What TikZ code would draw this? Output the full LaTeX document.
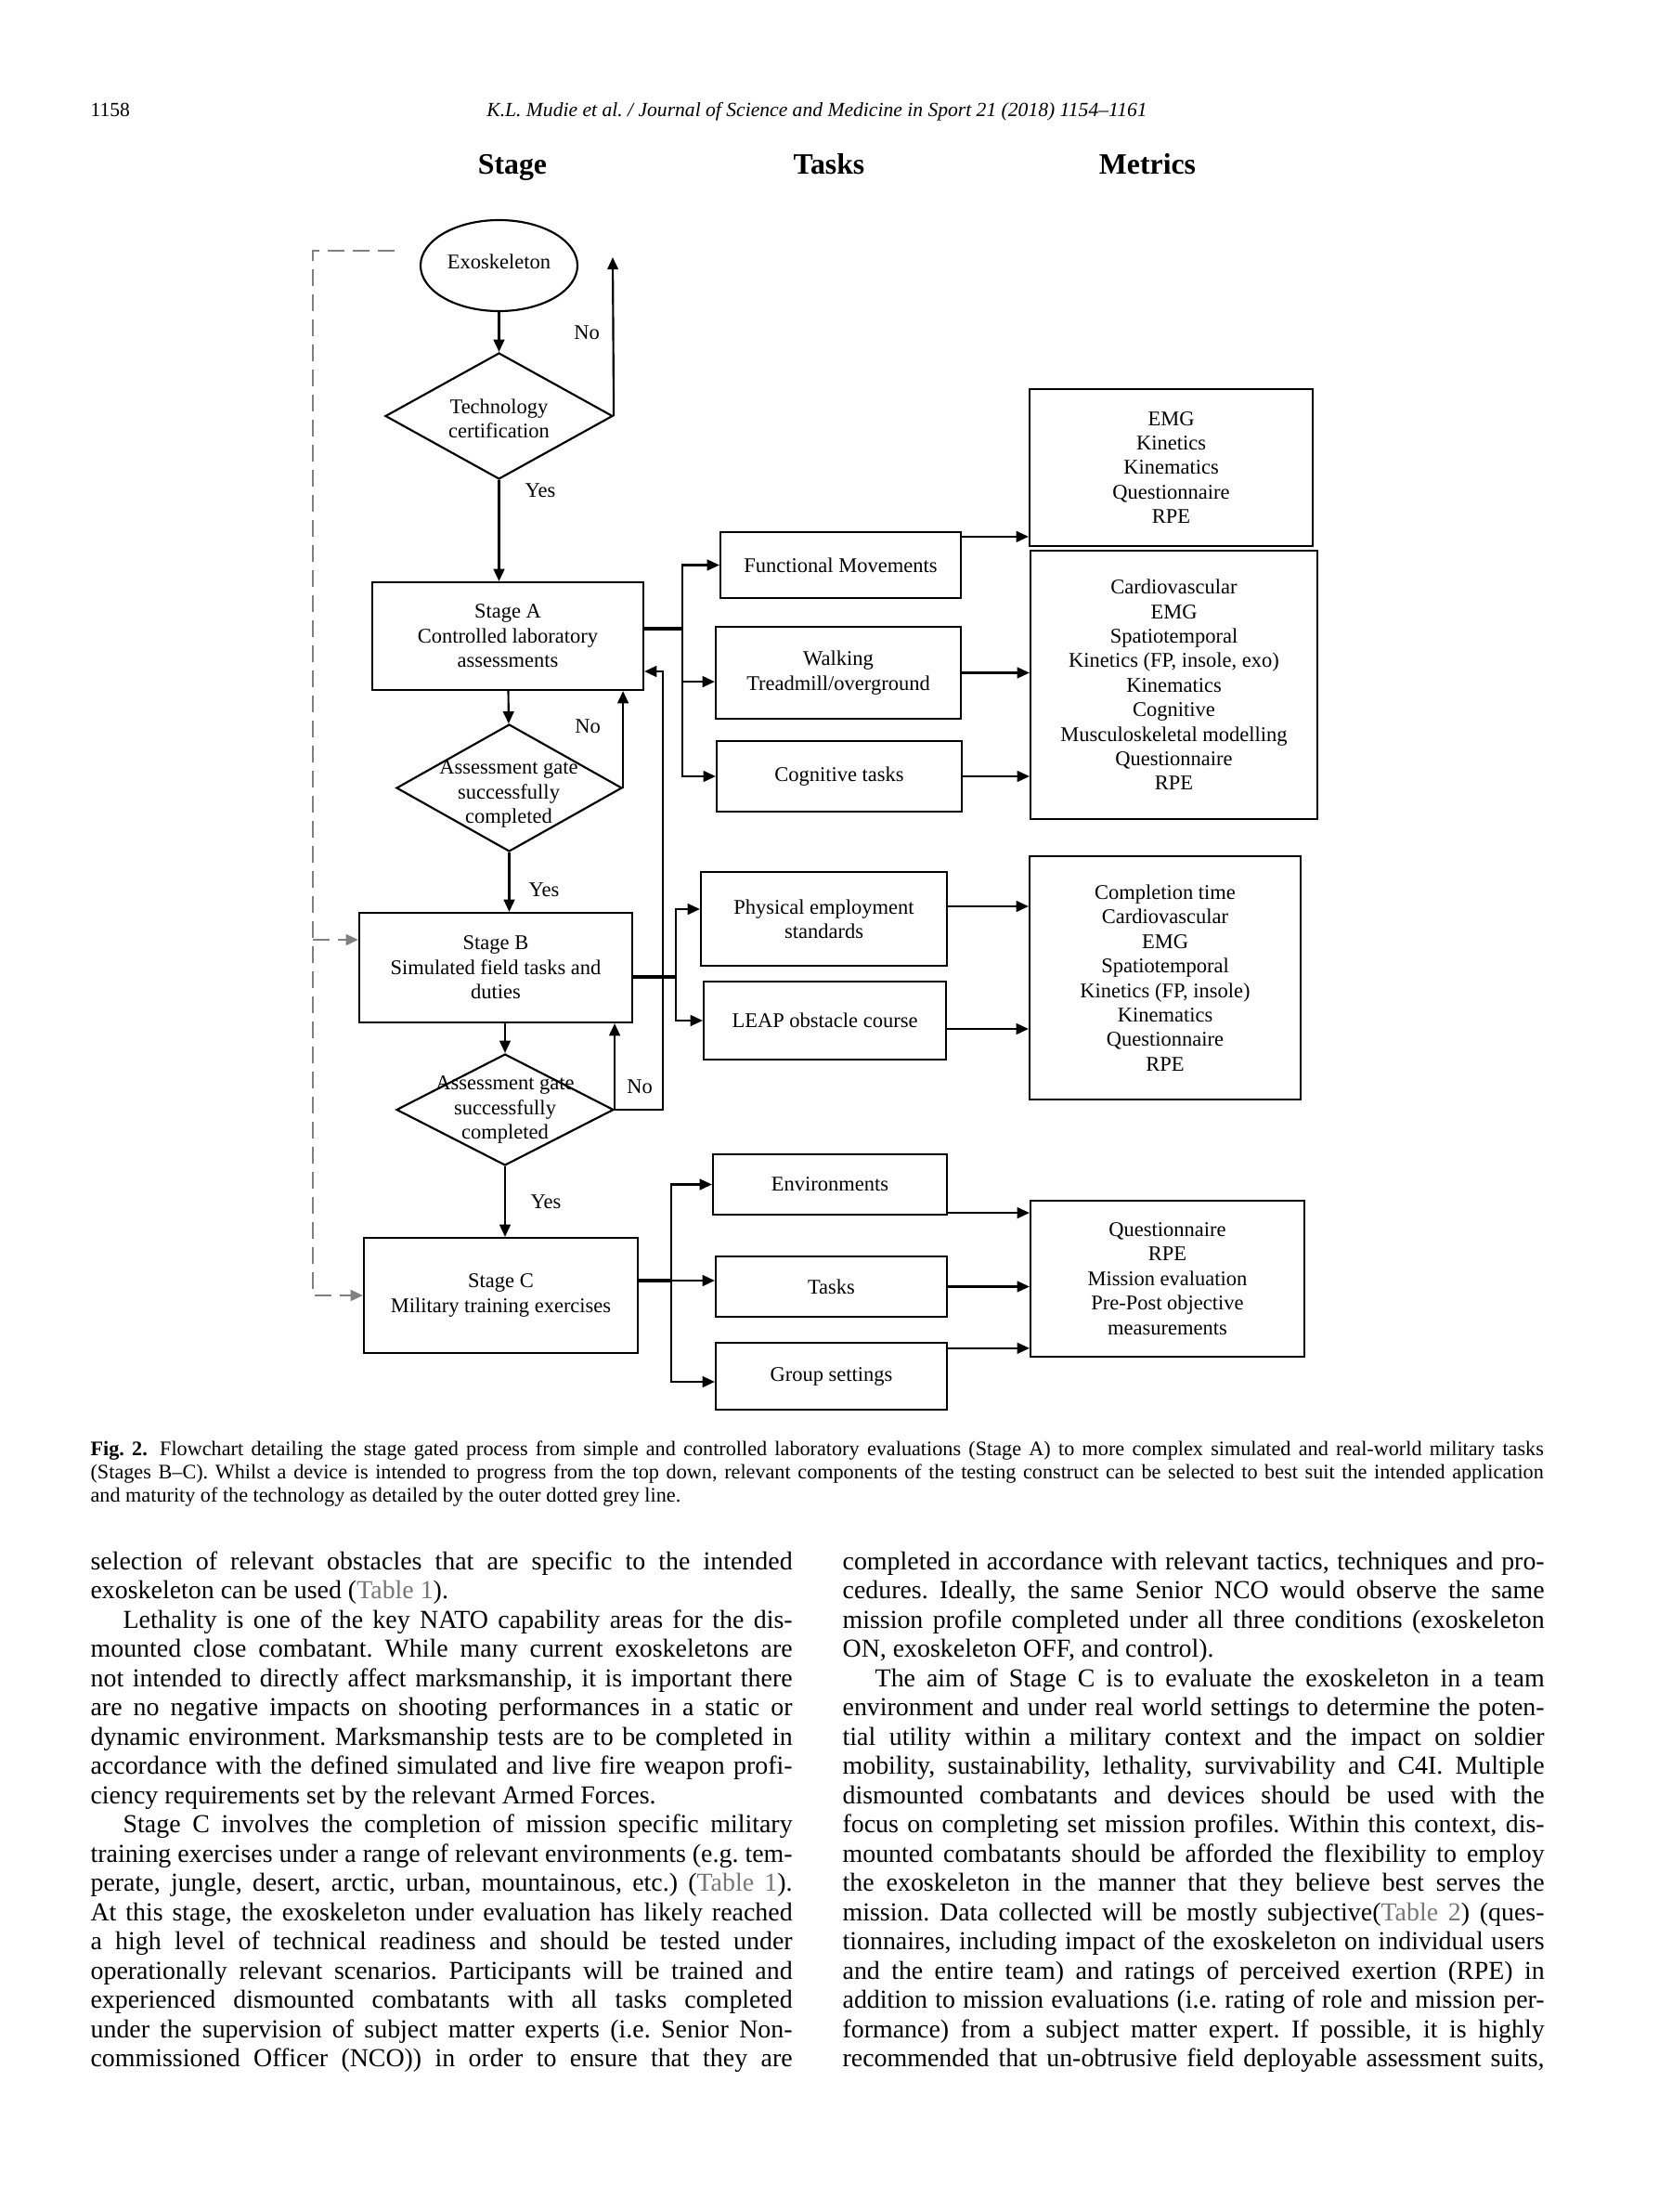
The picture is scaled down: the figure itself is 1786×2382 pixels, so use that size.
\documentclass[tikz,border=0pt]{standalone}
\usepackage{fontspec}
\setmainfont{Liberation Serif}
\usetikzlibrary{arrows.meta,shapes.geometric}
\definecolor{dashgray}{RGB}{128,128,128}
\definecolor{linkgray}{RGB}{118,118,118}
\frenchspacing
\newcommand{\diagfont}{\fontsize{7.5}{8.8}\selectfont}
\newcommand{\bodyjust}[1]{\makebox[252pt][s]{\spaceskip=.25em plus 1em minus .1em\relax #1}}
\newcommand{\bodylast}[1]{\makebox[252pt][l]{#1}}
\newcommand{\capjust}[1]{\makebox[521.7pt][s]{\spaceskip=.25em plus 1em minus .12em\relax #1}}
\newcommand{\caplast}[1]{\makebox[521.7pt][l]{#1}}
\newcommand{\tbl}[1]{\textcolor{linkgray}{#1}}
\newcommand{\parind}{\hspace*{11.7pt}}

\begin{document}
\begin{tikzpicture}[x=0.33333pt, y=-0.33333pt,
    box/.style={draw, line width=0.72pt, align=center, inner sep=0pt, font=\diagfont},
    gate/.style={diamond, draw, line width=0.72pt, inner sep=0pt},
    start/.style={ellipse, draw, line width=0.72pt, inner sep=0pt, font=\diagfont},
    lbl/.style={inner sep=0pt, align=center, font=\diagfont},
    head/.style={anchor=base, inner sep=0pt, font=\fontsize{10.6}{12}\selectfont\bfseries},
    arr/.style={-{Triangle[length=4.4pt,width=3.9pt]}, line width=0.72pt},
    stem/.style={line width=1.1pt},
    dasharr/.style={dashgray, line width=0.75pt, dash pattern=on 6pt off 3pt, -{Triangle[length=4.4pt,width=3.9pt]}},
    bodyline/.style={anchor=base west, inner sep=0pt, font=\fontsize{9.3}{10.5}\selectfont},
    capline/.style={anchor=base west, inner sep=0pt, font=\fontsize{7.4}{8.6}\selectfont},
    pagehead/.style={inner sep=0pt, font=\fontsize{7.2}{8.6}\selectfont}]
    \useasboundingbox[fill=white] (0,0) rectangle (1786,2382);

    % Page header
    \node (pagenum) [pagehead, anchor=base west] at (97,126) {1158};
    \node (journal) [pagehead, anchor=base] at (880,126) {\itshape K.L. Mudie et al. / Journal of Science and Medicine in Sport 21 (2018) 1154–1161};

    % Column heads
    \node (hstage) [head] at (552,188) {Stage};
    \node (htasks) [head] at (893,188) {Tasks};
    \node (hmetrics) [head] at (1236,188) {Metrics};

    % Define nodes
    \node (exo) [start, minimum width=56.33pt, minimum height=32.67pt] at (537.5,286) {Exoskeleton\rule[-3pt]{0pt}{0pt}};
    \node (tech) [gate, minimum width=81.67pt, minimum height=45.33pt] at (537.5,448) {};
    \node (techtxt) [lbl] at (537.5,451) {Technology\\certification};
    \node (stageA) [box, minimum width=97.33pt, minimum height=38.67pt] at (547,685) {Stage A\\Controlled laboratory\\assessments};
    \node (gateA) [gate, minimum width=81pt, minimum height=45.67pt] at (548.5,848.5) {};
    \node (gateAtxt) [lbl] at (548,855) {Assessment gate\\successfully\\completed};
    \node (stageB) [box, minimum width=98pt, minimum height=39.33pt] at (534,1042) {Stage B\\Simulated field tasks and\\duties};
    \node (gateB) [gate, minimum width=78pt, minimum height=40pt] at (544,1195) {};
    \node (gateBtxt) [lbl] at (544,1195) {Assessment gate\\successfully\\completed};
    \node (stageC) [box, minimum width=98.33pt, minimum height=41.33pt] at (539.5,1395) {Stage C\\Military training exercises};

    \node (fm) [box, minimum width=86.33pt, minimum height=23.67pt] at (905.5,608.5) {Functional Movements};
    \node (walk) [box, minimum width=88pt, minimum height=33pt] at (903,724.5) {Walking\\Treadmill/overground};
    \node (cog) [box, minimum width=88pt, minimum height=25.33pt] at (904,836) {Cognitive tasks};
    \node (phys) [box, minimum width=88.33pt, minimum height=33.67pt] at (887.5,989.5) {Physical employment\\standards};
    \node (leap) [box, minimum width=87pt, minimum height=28pt] at (888.5,1099) {LEAP obstacle course};
    \node (env) [box, minimum width=84pt, minimum height=21.67pt] at (894,1275.5) {Environments};
    \node (tasks) [box, minimum width=83pt, minimum height=21.67pt] at (895.5,1385.5) {Tasks};
    \node (group) [box, minimum width=83pt, minimum height=24pt] at (895.5,1482) {Group settings};

    \node (m1) [box, minimum width=101.67pt, minimum height=56.33pt] at (1261.5,503.5) {EMG\\Kinetics\\Kinematics\\Questionnaire\\RPE};
    \node (m2) [box, minimum width=103pt, minimum height=96.33pt] at (1264.5,737.5) {Cardiovascular\\EMG\\Spatiotemporal\\Kinetics (FP, insole, exo)\\Kinematics\\Cognitive\\Musculoskeletal modelling\\Questionnaire\\RPE};
    \node (m3) [box, minimum width=97.33pt, minimum height=87.33pt] at (1255,1053) {Completion time\\Cardiovascular\\EMG\\Spatiotemporal\\Kinetics (FP, insole)\\Kinematics\\Questionnaire\\RPE};
    \node (m4) [box, minimum width=98.33pt, minimum height=56pt] at (1257.5,1377) {Questionnaire\\RPE\\Mission evaluation\\Pre-Post objective\\measurements};

    % Yes / No labels
    \node (techno) [lbl] at (632,358) {No};
    \node (techyes) [lbl] at (582,528) {Yes};
    \node (gateAno) [lbl] at (633,782) {No};
    \node (gateAyes) [lbl] at (586,958) {Yes};
    \node (gateBno) [lbl] at (689,1170) {No};
    \node (gateByes) [lbl] at (588,1294) {Yes};

    % Helper points
    \coordinate (techend) at (660,277);
    \coordinate (loopA) at (714,723);
    \coordinate (brA) at (735,677);
    \coordinate (brB) at (728,1052);
    \coordinate (brC) at (723,1379);
    \coordinate (dtop) at (425,270);
    \coordinate (dcorner) at (337,270);
    \coordinate (dashB) at (337,1012);
    \coordinate (walkin) at ([yshift=-3.2pt]walk.west);
    \coordinate (physin) at ([yshift=3.5pt]phys.west);
    \coordinate (groupin) at ([yshift=-2pt]group.west);
    \coordinate (fmout) at ([yshift=-2pt]fm.north east);
    \coordinate (physout) at ([yshift=4.5pt]phys.east);
    \coordinate (leapout) at ([yshift=-3pt]leap.east);
    \coordinate (envout) at ([yshift=1pt]env.south east);
    \coordinate (groupout) at ([yshift=-2.3pt]group.north east);

    % Draw arrows
    \draw[arr] (exo) -- (tech);
    \draw[arr] (tech.east) -- (techend);
    \draw[arr] (tech.south) -- (tech.south |- stageA.north);
    \draw[arr] (stageA) -- (gateA);
    \draw[arr] (gateA.east) -- (gateA.east |- stageA.south);
    \draw[arr] (gateA.south) -- (gateA.south |- stageB.north);
    \draw[arr] (gateB.north |- stageB.south) -- (gateB.north);
    \draw[arr] (gateB.east) -- (gateB.east |- stageB.south);
    \draw[arr] (gateB.east) -| (loopA) -- (loopA -| stageA.east);
    \draw[arr] (gateB.south) -- (gateB.south |- stageC.north);

    \draw[stem] (stageA.east |- brA) -- (brA);
    \draw[arr] (brA) |- (fm);
    \draw[arr] (brA) |- (walkin);
    \draw[arr] (brA) |- (cog);
    \draw[stem] (stageB.east |- brB) -- (brB);
    \draw[arr] (brB) |- (physin);
    \draw[arr] (brB) |- (leap);
    \draw[stem] (stageC.east |- brC) -- (brC);
    \draw[arr] (brC) |- (env);
    \draw[arr] (brC) -- (brC -| tasks.west);
    \draw[arr] (brC) |- (groupin);

    \draw[arr] (fmout) -- (fmout -| m1.west);
    \draw[arr] (walk) -- (walk -| m2.west);
    \draw[arr] (cog) -- (cog -| m2.west);
    \draw[arr] (physout) -- (physout -| m3.west);
    \draw[arr] (leapout) -- (leapout -| m3.west);
    \draw[arr] (envout) -- (envout -| m4.west);
    \draw[arr] (tasks) -- (tasks -| m4.west);
    \draw[arr] (groupout) -- (groupout -| m4.west);

    % Outer dotted grey line
    \draw[dasharr] (dtop) -- (dcorner) |- (stageC.west);
    \draw[dasharr] (dashB) -- (dashB -| stageB.west);

    % Caption
    \node (cap1) [capline] at (97,1567) {\capjust{\textbf{Fig. 2.}\hspace{0.6em}Flowchart detailing the stage gated process from simple and controlled laboratory evaluations (Stage A) to more complex simulated and real-world military tasks}};
    \node (cap2) [capline] at (97,1592) {\capjust{(Stages B–C). Whilst a device is intended to progress from the top down, relevant components of the testing construct can be selected to best suit the intended application}};
    \node (cap3) [capline] at (97,1617) {\caplast{and maturity of the technology as detailed by the outer dotted grey line.}};

    % Left column
    \node (lcol1) [bodyline] at (97,1690) {\bodyjust{selection of relevant obstacles that are specific to the intended}};
    \node (lcol2) [bodyline] at (97,1721.5) {\bodylast{exoskeleton can be used (\tbl{Table 1}).}};
    \node (lcol3) [bodyline] at (97,1753) {\bodyjust{\parind Lethality is one of the key NATO capability areas for the dis-}};
    \node (lcol4) [bodyline] at (97,1784.5) {\bodyjust{mounted close combatant. While many current exoskeletons are}};
    \node (lcol5) [bodyline] at (97,1816) {\bodyjust{not intended to directly affect marksmanship, it is important there}};
    \node (lcol6) [bodyline] at (97,1847.5) {\bodyjust{are no negative impacts on shooting performances in a static or}};
    \node (lcol7) [bodyline] at (97,1879) {\bodyjust{dynamic environment. Marksmanship tests are to be completed in}};
    \node (lcol8) [bodyline] at (97,1910.5) {\bodyjust{accordance with the defined simulated and live fire weapon profi-}};
    \node (lcol9) [bodyline] at (97,1942) {\bodylast{ciency requirements set by the relevant Armed Forces.}};
    \node (lcol10) [bodyline] at (97,1973.5) {\bodyjust{\parind Stage C involves the completion of mission specific military}};
    \node (lcol11) [bodyline] at (97,2005) {\bodyjust{training exercises under a range of relevant environments (e.g. tem-}};
    \node (lcol12) [bodyline] at (97,2036.5) {\bodyjust{perate, jungle, desert, arctic, urban, mountainous, etc.) (\tbl{Table 1}).}};
    \node (lcol13) [bodyline] at (97,2068) {\bodyjust{At this stage, the exoskeleton under evaluation has likely reached}};
    \node (lcol14) [bodyline] at (97,2099.5) {\bodyjust{a high level of technical readiness and should be tested under}};
    \node (lcol15) [bodyline] at (97,2131) {\bodyjust{operationally relevant scenarios. Participants will be trained and}};
    \node (lcol16) [bodyline] at (97,2162.5) {\bodyjust{experienced dismounted combatants with all tasks completed}};
    \node (lcol17) [bodyline] at (97,2194) {\bodyjust{under the supervision of subject matter experts (i.e. Senior Non-}};
    \node (lcol18) [bodyline] at (97,2225.5) {\bodyjust{commissioned Officer (NCO)) in order to ensure that they are}};

    % Right column
    \node (rcol1) [bodyline] at (907,1690) {\bodyjust{completed in accordance with relevant tactics, techniques and pro-}};
    \node (rcol2) [bodyline] at (907,1721.5) {\bodyjust{cedures. Ideally, the same Senior NCO would observe the same}};
    \node (rcol3) [bodyline] at (907,1753) {\bodyjust{mission profile completed under all three conditions (exoskeleton}};
    \node (rcol4) [bodyline] at (907,1784.5) {\bodylast{ON, exoskeleton OFF, and control).}};
    \node (rcol5) [bodyline] at (907,1816) {\bodyjust{\parind The aim of Stage C is to evaluate the exoskeleton in a team}};
    \node (rcol6) [bodyline] at (907,1847.5) {\bodyjust{environment and under real world settings to determine the poten-}};
    \node (rcol7) [bodyline] at (907,1879) {\bodyjust{tial utility within a military context and the impact on soldier}};
    \node (rcol8) [bodyline] at (907,1910.5) {\bodyjust{mobility, sustainability, lethality, survivability and C4I. Multiple}};
    \node (rcol9) [bodyline] at (907,1942) {\bodyjust{dismounted combatants and devices should be used with the}};
    \node (rcol10) [bodyline] at (907,1973.5) {\bodyjust{focus on completing set mission profiles. Within this context, dis-}};
    \node (rcol11) [bodyline] at (907,2005) {\bodyjust{mounted combatants should be afforded the flexibility to employ}};
    \node (rcol12) [bodyline] at (907,2036.5) {\bodyjust{the exoskeleton in the manner that they believe best serves the}};
    \node (rcol13) [bodyline] at (907,2068) {\bodyjust{mission. Data collected will be mostly subjective(\tbl{Table 2}) (ques-}};
    \node (rcol14) [bodyline] at (907,2099.5) {\bodyjust{tionnaires, including impact of the exoskeleton on individual users}};
    \node (rcol15) [bodyline] at (907,2131) {\bodyjust{and the entire team) and ratings of perceived exertion (RPE) in}};
    \node (rcol16) [bodyline] at (907,2162.5) {\bodyjust{addition to mission evaluations (i.e. rating of role and mission per-}};
    \node (rcol17) [bodyline] at (907,2194) {\bodyjust{formance) from a subject matter expert. If possible, it is highly}};
    \node (rcol18) [bodyline] at (907,2225.5) {\bodyjust{recommended that un-obtrusive field deployable assessment suits,}};
\end{tikzpicture}
\end{document}
